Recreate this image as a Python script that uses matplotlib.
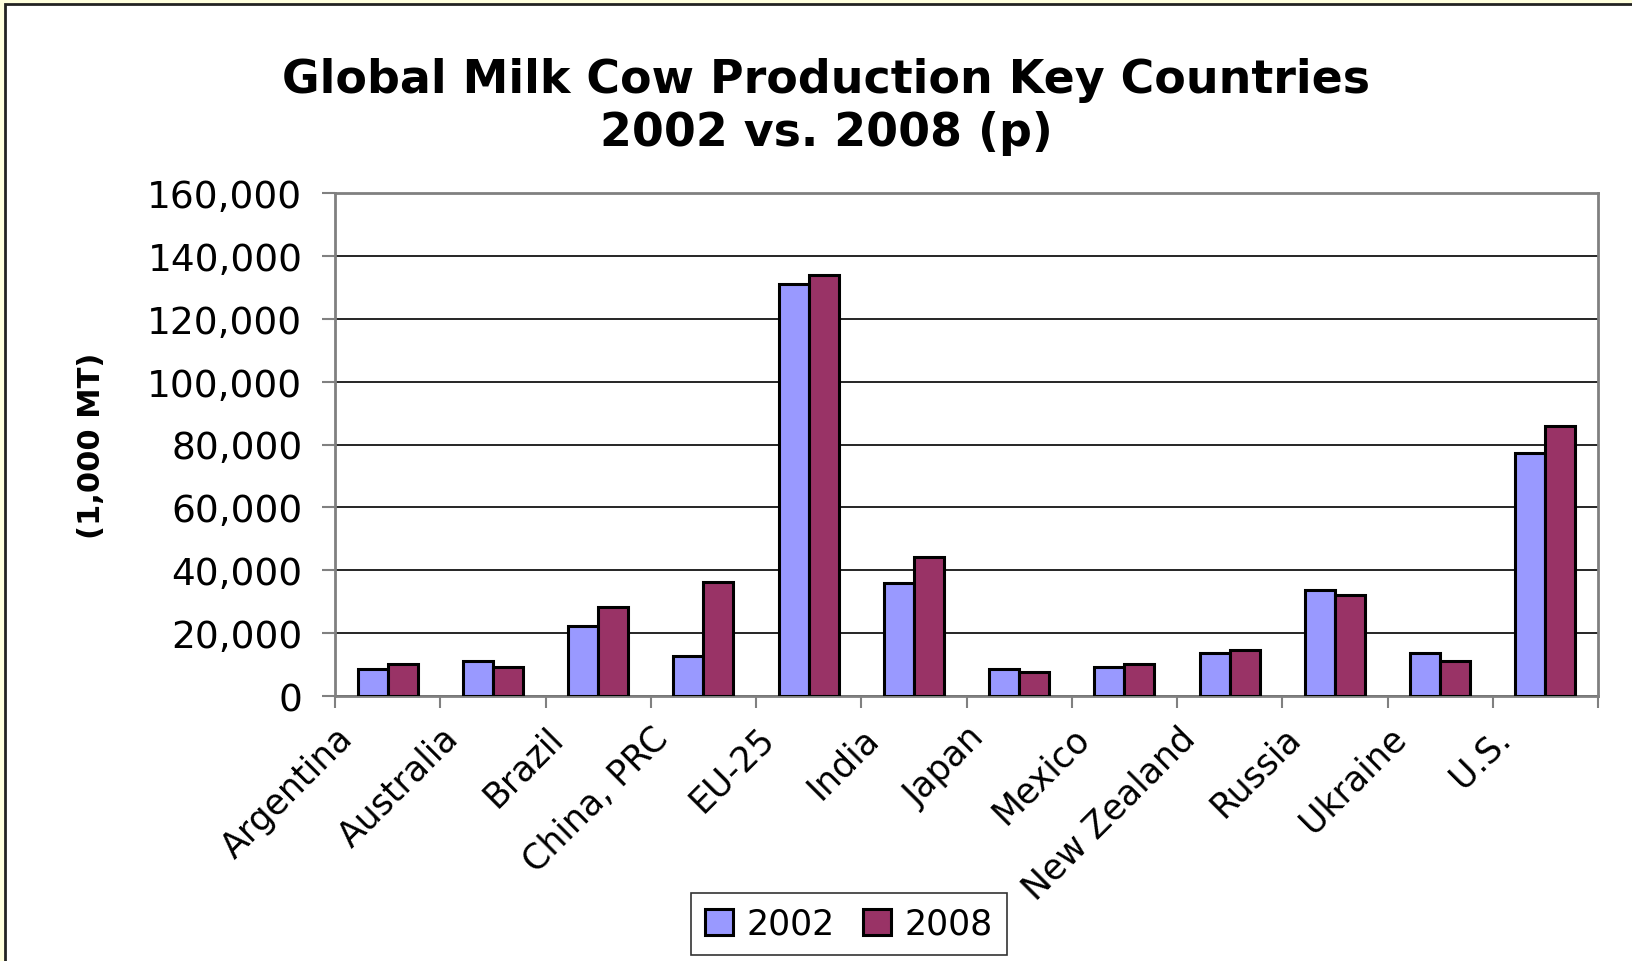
import numpy as np
import matplotlib.pyplot as plt
from matplotlib.patches import Rectangle
from matplotlib.ticker import FuncFormatter
from matplotlib.transforms import ScaledTranslation

countries = ['Argentina', 'Australia', 'Brazil', 'China, PRC', 'EU-25', 'India',
             'Japan', 'Mexico', 'New Zealand', 'Russia', 'Ukraine', 'U.S.']
prod_2002 = [8500, 11000, 22300, 12700, 131200, 36100, 8500, 9200, 13600, 33600, 13600, 77200]
prod_2008 = [10100, 9200, 28300, 36200, 133800, 44100, 7500, 10200, 14600, 32100, 11100, 85800]

plt.rcParams['font.family'] = ['DejaVu Sans']

W, H = 1633, 962
fig = plt.figure(figsize=(W / 100, H / 100), dpi=100)
fig.patch.set_facecolor('#ffffdd')
# white chart area, frame runs off the right and bottom edges
fig.patches.append(Rectangle((5 / W, -0.05), 2.0, 1.05 - 5 / H, transform=fig.transFigure,
                             facecolor='white', edgecolor='#222222', linewidth=2, zorder=-5))

ax = fig.add_axes([335 / W, 1 - 697 / H, (1598 - 335) / W, (697 - 194) / H])
ax.set_facecolor('white')

x = np.arange(len(countries))
w = 0.285
ax.bar(x - w / 2, prod_2002, w, color='#9999ff', edgecolor='black', linewidth=2.2,
       label='2002', zorder=3)
ax.bar(x + w / 2, prod_2008, w, color='#993366', edgecolor='black', linewidth=2.2,
       label='2008', zorder=3)

ax.set_xlim(-0.5, len(countries) - 0.5)
ax.set_ylim(0, 160000)
ax.set_yticks(np.arange(0, 160001, 20000))
ax.yaxis.set_major_formatter(FuncFormatter(lambda v, p: f'{int(v):,}'))
ax.grid(axis='y', color='black', linewidth=1.2, zorder=1)

ax.set_xticks(np.arange(-0.5, len(countries), 1.0))
ax.set_xticklabels([])
ax.set_xticks(x, minor=True)
ax.set_xticklabels(countries, minor=True, rotation=45, ha='right', va='baseline',
                   rotation_mode='anchor', fontsize=25)
ax.tick_params(axis='x', which='minor', length=0, pad=31)
ax.tick_params(axis='x', which='major', length=8.4, color='#808080', width=1.5)
ax.tick_params(axis='y', labelsize=27, length=9.4, color='#808080', width=1.5, pad=14)

# shift the rotated labels left of the category centre
shift = ScaledTranslation(-0.33, 0, fig.dpi_scale_trans)
for lbl in ax.get_xticklabels(minor=True):
    lbl.set_transform(lbl.get_transform() + shift)

for s in ax.spines.values():
    s.set_color('#808080')
    s.set_linewidth(2)

ax.set_ylabel('(1,000 MT)', fontsize=22, fontweight='bold', va='center')
ax.yaxis.set_label_coords(92 / W, 1 - 446 / H, transform=fig.transFigure)

fig.text(826 / W, 1 - 93 / H, 'Global Milk Cow Production Key Countries',
         fontsize=33, fontweight='bold', ha='center', va='baseline')
fig.text(826 / W, 1 - 146 / H, '2002 vs. 2008 (p)',
         fontsize=33, fontweight='bold', ha='center', va='baseline')

leg = fig.legend(loc='center', bbox_to_anchor=(849 / W, 1 - 925 / H),
                 ncol=2, fontsize=25, frameon=True, fancybox=False,
                 handlelength=0.8, handleheight=0.8, handletextpad=0.4,
                 columnspacing=0.8, borderpad=0.4)
leg.get_frame().set_edgecolor('black')
leg.get_frame().set_linewidth(1.2)

fig.savefig('out.png', dpi=100, facecolor=fig.get_facecolor())
